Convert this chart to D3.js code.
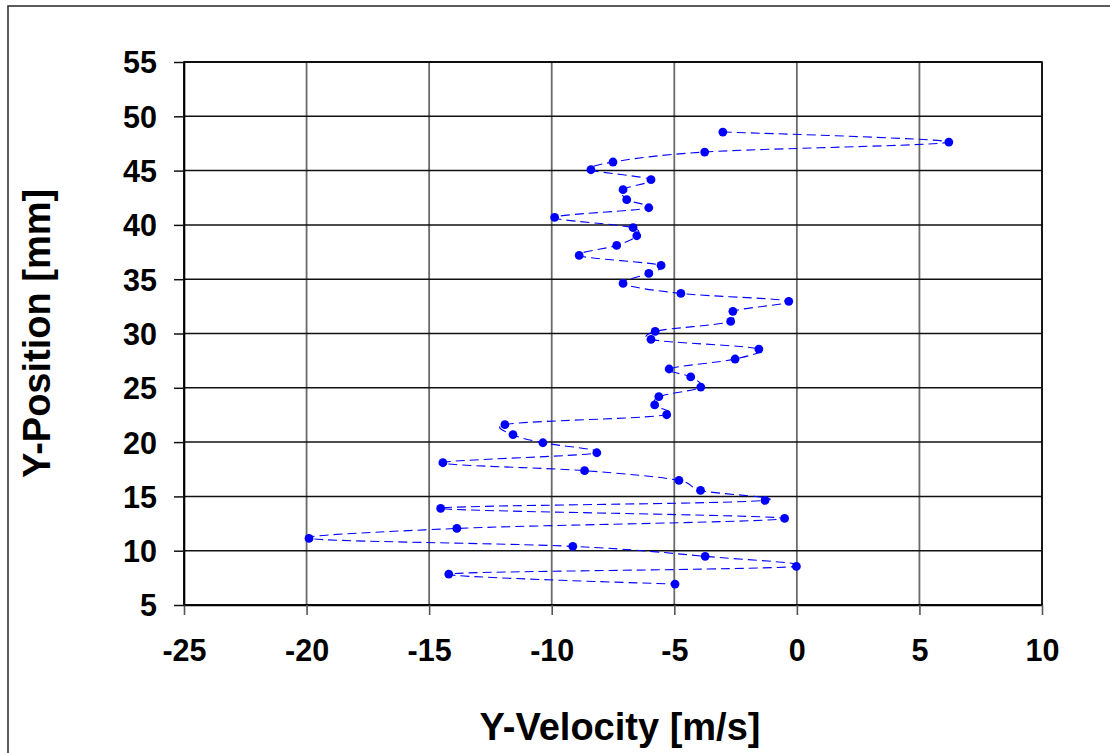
<!DOCTYPE html>
<html>
<head>
<meta charset="utf-8">
<script src="https://cdn.jsdelivr.net/npm/d3@7"></script>
<style>
  html, body { margin: 0; padding: 0; background: #fff; }
  svg { display: block; }
  text { font-family: "Liberation Sans", Arial, sans-serif; font-weight: bold; fill: #000; }
</style>
</head>
<body>
<svg id="chart" width="1110" height="753"></svg>
<script>
// Data
const yVelocity = [
  -3.02, 6.20, -3.76, -7.50, -8.40, -5.95, -7.09, -6.94, -6.04, -9.88,
  -6.68, -6.53, -7.35, -8.88, -5.54, -6.04, -7.09, -4.73, -0.33, -2.61,
  -2.70, -5.78, -5.95, -1.55, -2.52, -5.21, -4.33, -3.92, -5.63, -5.80,
  -5.31, -11.91, -11.58, -10.36, -8.16, -14.44, -8.66, -4.81, -3.93, -1.30,
  -14.53, -0.50, -13.87, -19.90, -9.14, -3.74, -0.02, -14.20, -4.97
];
const yPosition = [
  48.55, 47.63, 46.71, 45.79, 45.08, 44.16, 43.24, 42.32, 41.58, 40.69,
  39.74, 39.00, 38.11, 37.19, 36.27, 35.53, 34.61, 33.69, 32.96, 32.04,
  31.11, 30.19, 29.46, 28.57, 27.65, 26.73, 26.00, 25.07, 24.18, 23.42,
  22.52, 21.60, 20.68, 19.94, 19.02, 18.10, 17.37, 16.47, 15.55, 14.63,
  13.90, 12.97, 12.05, 11.13, 10.40, 9.48, 8.55, 7.85, 6.93
];
const xTicks = [-25, -20, -15, -10, -5, 0, 5, 10];
const yTicks = [5, 10, 15, 20, 25, 30, 35, 40, 45, 50, 55];
const xTitle = "Y-Velocity [m/s]";
const yTitle = "Y-Position [mm]";

const svg = d3.select("#chart");
const plot = { left: 184, right: 1042, top: 62, bottom: 605 };

const x = d3.scaleLinear().domain([-25, 10]).range([plot.left, plot.right]);
const y = d3.scaleLinear().domain([5, 55]).range([plot.bottom, plot.top]);

// outer chart border (partly off-canvas like the reference)
svg.append("rect")
  .attr("x", 8).attr("y", 6)
  .attr("width", 1200).attr("height", 900)
  .attr("fill", "none").attr("stroke", "#333").attr("stroke-width", 1.6);

// vertical gridlines
svg.append("g").selectAll("line").data(xTicks).join("line")
  .attr("x1", d => x(d)).attr("x2", d => x(d))
  .attr("y1", plot.top).attr("y2", plot.bottom)
  .attr("stroke", "#6a6a6a").attr("stroke-width", 1.8);

// horizontal gridlines
svg.append("g").selectAll("line").data(yTicks).join("line")
  .attr("x1", plot.left).attr("x2", plot.right)
  .attr("y1", d => y(d)).attr("y2", d => y(d))
  .attr("stroke", "#111").attr("stroke-width", 1.5);

// plot frame
svg.append("rect")
  .attr("x", plot.left).attr("y", plot.top)
  .attr("width", plot.right - plot.left).attr("height", plot.bottom - plot.top)
  .attr("fill", "none").attr("stroke", "#000").attr("stroke-width", 1.6);

// axes
const xAxis = d3.axisBottom(x).tickValues(xTicks).tickSize(10).tickSizeOuter(0).tickPadding(24).tickFormat(d3.format("d"));
const gx = svg.append("g").attr("transform", `translate(0,${plot.bottom})`).call(xAxis);
gx.select(".domain").attr("stroke", "#000").attr("stroke-width", 1.6);
gx.selectAll(".tick line").attr("stroke", "#555").attr("stroke-width", 1.6);
gx.selectAll(".tick text").attr("font-size", 30.5).attr("font-family", "Liberation Sans, Arial, sans-serif")
  .attr("font-weight", "bold").attr("fill", "#000").text(d => d < 0 ? "-" + Math.abs(d) : d);

const yAxis = d3.axisLeft(y).tickValues(yTicks).tickSize(10).tickSizeOuter(0).tickPadding(17).tickFormat(d3.format("d"));
const gy = svg.append("g").attr("transform", `translate(${plot.left},0)`).call(yAxis);
gy.select(".domain").attr("stroke", "#000").attr("stroke-width", 1.6);
gy.selectAll(".tick line").attr("stroke", "#111").attr("stroke-width", 1.5);
gy.selectAll(".tick text").attr("font-size", 30.5).attr("font-family", "Liberation Sans, Arial, sans-serif")
  .attr("font-weight", "bold").attr("fill", "#000").attr("dy", "0.36em");

// axis titles
svg.append("text")
  .attr("x", 620).attr("y", 740)
  .attr("text-anchor", "middle").attr("font-size", 38)
  .text(xTitle);

svg.append("text")
  .attr("transform", `translate(50,${(plot.top + plot.bottom) / 2}) rotate(-90)`)
  .attr("text-anchor", "middle").attr("font-size", 38)
  .text(yTitle);

// data
const pts = yVelocity.map((v, i) => ({ v, p: yPosition[i] }));

const line = d3.line()
  .x(d => x(d.v)).y(d => y(d.p))
  .curve(d3.curveCatmullRom.alpha(0.15));

svg.append("path")
  .datum(pts)
  .attr("d", line)
  .attr("fill", "none")
  .attr("stroke", "#0000ff")
  .attr("stroke-width", 1.1)
  .attr("stroke-dasharray", "9,5");

svg.append("g").selectAll("circle").data(pts).join("circle")
  .attr("cx", d => x(d.v)).attr("cy", d => y(d.p))
  .attr("r", 4.4)
  .attr("fill", "#0000ff");
</script>
</body>
</html>
